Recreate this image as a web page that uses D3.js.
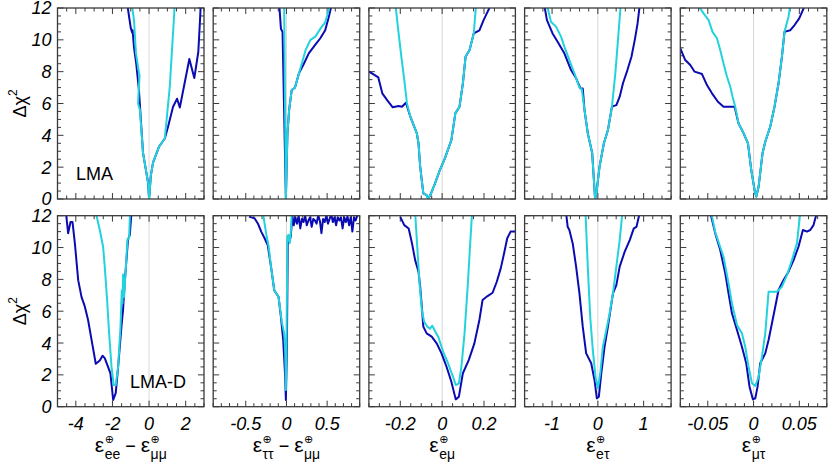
<!DOCTYPE html>
<html>
<head>
<meta charset="utf-8">
<script src="https://cdn.jsdelivr.net/npm/d3@7"></script>
<style>
  body { margin: 0; background: #fff; }
  svg { display: block; }
</style>
</head>
<body>
<div id="plot"></div>
<script>
// curves: [x, delta chi^2]
// dark = navy curve, light = cyan curve
var eeDarkLMA = [[-1.16, 12], [-1.0, 10.75], [-0.92, 10.45], [-0.9, 10.6], [-0.82, 9.5], [-0.7, 8.5], [-0.55, 6.8],
    [-0.45, 5.0], [-0.33, 2.9], [-0.05, 1.0], [0, 0], [0.1, 1.5], [0.22, 2.3], [0.55, 3.3], [0.86, 3.8], [1.04, 4.55],
    [1.31, 5.8], [1.53, 6.3], [1.68, 5.75], [2.2, 8.8], [2.47, 7.6], [2.69, 9.25], [2.78, 11.2], [2.82, 12.2]]
var eeLightLMA = [[-0.94, 12.2], [-0.82, 11.2], [-0.72, 9.2], [-0.55, 7.9], [-0.52, 7.8], [-0.6, 6.0], [-0.5, 5.6],
    [-0.33, 2.9], [-0.05, 1.0], [0, 0], [0.1, 1.5], [0.22, 2.3], [0.55, 3.3], [0.86, 3.8], [1.13, 7.05], [1.35, 11.2], [1.4, 12.2]]
var eeDarkLMAD = [[-4.54, 12.2], [-4.42, 10.9], [-4.29, 11.6], [-4.18, 11.6], [-4.05, 10.25], [-3.87, 7.95], [-3.69, 6.9],
    [-3.51, 6.3], [-3.33, 5.45], [-3.14, 4.2], [-2.91, 2.7], [-2.69, 2.9], [-2.54, 3.2], [-2.42, 3.05], [-2.24, 2.5],
    [-2.11, 2.1], [-1.96, 0.42], [-1.82, 0.85], [-1.69, 2.5], [-1.51, 5.0], [-1.42, 6.1], [-1.33, 7.8], [-1.15, 10.5],
    [-1.05, 10.8], [-0.96, 12.2]]
var eeLightLMAD = [[-2.91, 12.2], [-2.69, 11.1], [-2.51, 10.05], [-2.42, 8.8], [-2.29, 6.7], [-2.18, 4.6], [-2.05, 2.5],
    [-1.93, 1.36], [-1.82, 1.36], [-1.69, 2.5], [-1.56, 5.0], [-1.49, 7.3], [-1.45, 6.5], [-1.42, 8.3], [-1.36, 6.9],
    [-1.31, 7.9], [-1.18, 10.5], [-1.09, 10.6], [-1.04, 12.2]]

var ttDarkLMA = [[-0.088, 12.2], [-0.068, 10.7], [-0.048, 10.5], [-0.007, 0.04], [0.012, 4.1], [0.033, 5.6], [0.065, 6.85],
    [0.105, 7.0], [0.154, 7.9], [0.214, 8.5], [0.274, 9.15], [0.355, 9.7], [0.416, 10.1], [0.476, 10.6], [0.516, 11.35], [0.556, 12.2]]
var ttLightLMA = [[-0.028, 12.2], [-0.007, 0], [0.012, 4.1], [0.033, 5.6], [0.065, 6.85], [0.105, 7.0], [0.154, 7.9],
    [0.235, 9.35], [0.295, 10.0], [0.355, 10.2], [0.416, 10.7], [0.476, 11.1], [0.508, 11.65], [0.53, 12.2]]
var ttDarkLMAD = [[-0.46, 11.94], [-0.39, 11.83], [-0.35, 11.5], [-0.31, 11.0], [-0.27, 10.6], [-0.23, 10.15], [-0.19, 8.8],
    [-0.149, 7.3], [-0.097, 6.9], [-0.068, 5.65], [-0.04, 4.2], [-0.016, 1.9], [-0.007, 0.42], [0.005, 3.56], [0.017, 10.7],
    [0.033, 10.3], [0.053, 10.7], [0.073, 12], [0.09, 11.4], [0.11, 11.9], [0.13, 11.5], [0.15, 12], [0.17, 11.2],
    [0.19, 11.8], [0.21, 11.6], [0.23, 12], [0.25, 11.4], [0.27, 11.7], [0.29, 11.9], [0.31, 11.3], [0.33, 11.8],
    [0.35, 11.7], [0.37, 11.5], [0.39, 12], [0.41, 11.7], [0.43, 10.9], [0.45, 11.8], [0.47, 11.6], [0.49, 12],
    [0.51, 11.5], [0.53, 11.8], [0.55, 12.1], [0.57, 11.6], [0.59, 11.9], [0.61, 11.4], [0.63, 11.9], [0.65, 11.7],
    [0.67, 11.9], [0.69, 11.2], [0.71, 11.9], [0.73, 11.6], [0.75, 11.95], [0.77, 11.4], [0.79, 11.9], [0.81, 11.0],
    [0.83, 11.9], [0.85, 11.7], [0.87, 12]]
var ttLightLMAD = [[-0.29, 12.2], [-0.25, 10.9], [-0.218, 10.05], [-0.19, 8.8], [-0.149, 7.3], [-0.097, 6.9], [-0.056, 5.3],
    [-0.028, 4.6], [-0.016, 3.6], [-0.007, 1.05], [0.0, 3.5], [0.012, 10.7], [0.024, 10.8], [0.041, 10.3], [0.053, 10.9], [0.065, 12.2]]

var emDarkLMA = [[-0.349, 8.0], [-0.305, 7.64], [-0.286, 6.64], [-0.262, 6.2], [-0.236, 5.76], [-0.208, 5.84], [-0.192, 5.8],
    [-0.173, 6.05], [-0.152, 5.17], [-0.121, 4.13], [-0.113, 3.5], [-0.105, 2.03], [-0.09, 0.36], [-0.074, 0.25],
    [-0.066, 0.0], [-0.053, 0.36], [-0.034, 0.98], [-0.011, 1.82], [0.013, 2.55], [0.044, 3.7], [0.063, 5.38],
    [0.083, 5.8], [0.099, 7.27], [0.112, 8.94], [0.131, 9.36], [0.151, 10.4], [0.178, 10.6], [0.198, 11.24], [0.233, 12.2]]
var emLightLMA = [[-0.223, 12.2], [-0.208, 10.4], [-0.195, 8.94], [-0.179, 7.27], [-0.168, 6.0], [-0.152, 5.17],
    [-0.121, 4.13], [-0.113, 3.5], [-0.105, 2.03], [-0.09, 0.36], [-0.074, 0.25], [-0.066, 0.0], [-0.053, 0.36],
    [-0.034, 0.98], [-0.011, 1.82], [0.013, 2.55], [0.044, 3.7], [0.063, 5.38], [0.083, 5.8], [0.099, 7.27],
    [0.112, 8.94], [0.131, 9.36], [0.151, 10.4], [0.162, 12.2]]
var emDarkLMAD = [[-0.2, 11.93], [-0.181, 11.41], [-0.16, 11.2], [-0.144, 10.26], [-0.129, 9.21], [-0.113, 8.48],
    [-0.105, 7.54], [-0.097, 6.28], [-0.09, 5.03], [-0.074, 4.61], [-0.05, 4.4], [-0.026, 3.98], [-0.003, 3.35],
    [0.021, 2.51], [0.044, 1.57], [0.065, 0.46], [0.08, 0.63], [0.099, 2.1], [0.127, 2.93], [0.154, 3.98], [0.178, 5.45],
    [0.193, 6.7], [0.217, 6.95], [0.241, 7.16], [0.261, 7.85], [0.28, 8.69], [0.296, 9.64], [0.311, 10.58], [0.327, 11.0], [0.35, 11.0]]
var emLightLMAD = [[-0.129, 12.2], [-0.118, 9.84], [-0.108, 7.75], [-0.097, 6.07], [-0.086, 5.34], [-0.071, 5.03],
    [-0.058, 4.9], [-0.047, 5.09], [-0.038, 4.85], [-0.019, 4.4], [0.005, 3.45], [0.028, 2.73], [0.052, 1.88],
    [0.065, 1.36], [0.08, 1.47], [0.092, 2.51], [0.107, 4.61], [0.123, 7.75], [0.134, 10.26], [0.143, 12.2]]

var etDarkLMA = [[-1.171, 12.2], [-1.112, 11.24], [-0.989, 10.4], [-0.879, 9.88], [-0.732, 9.15], [-0.585, 8.1],
    [-0.475, 7.58], [-0.38, 6.95], [-0.33, 6.95], [-0.292, 5.6], [-0.22, 4.13], [-0.123, 2.87], [-0.06, 0.0],
    [-0.03, 0.4], [0.037, 2.03], [0.132, 3.5], [0.22, 4.33], [0.308, 5.8], [0.404, 5.9], [0.477, 6.43], [0.549, 7.27],
    [0.646, 8.1], [0.734, 8.94], [0.807, 10.0], [0.866, 11.0], [0.916, 12.2]]
var etLightLMA = [[-1.112, 12.2], [-1.024, 11.14], [-0.914, 10.83], [-0.804, 10.2], [-0.732, 9.57], [-0.622, 8.73],
    [-0.512, 7.9], [-0.402, 7.0], [-0.35, 6.9], [-0.292, 5.6], [-0.22, 4.13], [-0.123, 2.87], [-0.06, 0.0],
    [-0.03, 0.4], [0.037, 2.03], [0.132, 3.5], [0.22, 4.33], [0.308, 5.8], [0.382, 7.9], [0.44, 10.0], [0.499, 12.2]]
var etDarkLMAD = [[-0.695, 12.2], [-0.659, 11.3], [-0.622, 11.1], [-0.549, 10.26], [-0.475, 8.8], [-0.402, 7.12],
    [-0.33, 5.03], [-0.255, 3.35], [-0.145, 2.73], [-0.073, 1.68], [-0.022, 0.53], [0.022, 0.63], [0.075, 2.1],
    [0.147, 3.77], [0.22, 5.03], [0.33, 7.12], [0.404, 7.64], [0.477, 8.8], [0.587, 9.74], [0.697, 10.47],
    [0.785, 11.2], [0.844, 11.3], [0.916, 12.2]]
var etLightLMAD = [[-0.27, 12.2], [-0.22, 8.8], [-0.167, 5.65], [-0.11, 3.56], [-0.051, 1.88], [0.0, 1.16], [0.053, 2.1],
    [0.11, 3.77], [0.185, 4.82], [0.257, 5.87], [0.33, 7.12], [0.404, 8.8], [0.477, 10.47], [0.536, 12.2]]

var mtDarkLMA = [[-0.08, 9.46], [-0.0746, 8.73], [-0.0691, 8.42], [-0.0644, 8.0], [-0.0563, 7.85], [-0.0509, 7.16],
    [-0.0454, 6.64], [-0.0389, 6.11], [-0.0328, 5.8], [-0.0207, 5.8], [-0.0164, 4.75], [-0.0109, 4.13], [-0.0061, 3.5],
    [-0.0025, 1.82], [0.0011, 0.57], [0.003, 0.15], [0.0055, 0.77], [0.0098, 2.87], [0.0128, 3.6], [0.0182, 4.54],
    [0.0229, 5.8], [0.0273, 7.27], [0.031, 8.94], [0.0338, 10.5], [0.04, 10.6], [0.0448, 10.93], [0.0499, 11.35], [0.0564, 12.2]]
var mtLightLMA = [[-0.0607, 12.2], [-0.0546, 11.66], [-0.0491, 11.24], [-0.0448, 10.5], [-0.04, 10.1], [-0.0364, 9.36],
    [-0.0328, 8.52], [-0.029, 7.68], [-0.0254, 7.05], [-0.0229, 6.43], [-0.02, 5.8], [-0.0164, 4.75], [-0.0109, 4.13],
    [-0.0061, 3.5], [-0.0025, 1.82], [0.0011, 0.57], [0.003, 0.15], [0.0055, 0.77], [0.0098, 2.87], [0.0128, 3.6],
    [0.0182, 4.54], [0.0229, 5.8], [0.0273, 7.27], [0.031, 8.94], [0.0338, 10.5], [0.0382, 11.45], [0.04, 12.2]]
var mtDarkLMAD = [[-0.0473, 12.2], [-0.0418, 10.89], [-0.0364, 9.84], [-0.0309, 8.38], [-0.0273, 7.12], [-0.0236, 5.87],
    [-0.0181, 4.82], [-0.0127, 3.77], [-0.008, 2.73], [-0.0044, 1.26], [-0.0007, 0.46], [0.0019, 0.53], [0.0044, 1.26],
    [0.0073, 2.73], [0.0128, 3.35], [0.0164, 4.19], [0.0201, 5.24], [0.0237, 6.28], [0.0273, 7.33], [0.0328, 7.96],
    [0.0382, 8.48], [0.0437, 9.21], [0.0491, 10.05], [0.0539, 11.1], [0.0583, 11.0], [0.0619, 11.1], [0.0655, 11.41], [0.0692, 12.2]]
var mtLightLMAD = [[-0.0462, 12.2], [-0.0418, 10.95], [-0.0328, 9.42], [-0.0273, 7.75], [-0.0236, 6.49], [-0.0181, 5.13],
    [-0.0127, 4.61], [-0.0091, 3.77], [-0.0055, 2.51], [-0.0017, 1.47], [0.0019, 1.3], [0.0055, 1.88], [0.0092, 3.14],
    [0.0128, 4.61], [0.0164, 7.22], [0.0255, 7.22], [0.031, 7.54], [0.0365, 8.27], [0.0419, 9.21], [0.0474, 10.26], [0.051, 12.2]]

// axis ranges and ticks per column
var xDomains = [[-5, 3], [-0.9, 0.9], [-0.35, 0.35], [-1.6, 1.6], [-0.08, 0.08]]
var xMajor = [[-4, -2, 0, 2], [-0.5, 0, 0.5], [-0.2, 0, 0.2], [-1, 0, 1], [-0.05, 0, 0.05]]
var xMinorStep = [0.5, 0.1, 0.05, 0.2, 0.01]
var xTickLabels = [["-4", "-2", "0", "2"], ["-0.5", "0", "0.5"], ["-0.2", "0", "0.2"], ["-1", "0", "1"], ["-0.05", "0", "0.05"]]
var xTitleSubs = [["ee", "μμ"], ["ττ", "μμ"], ["eμ"], ["eτ"], ["μτ"]]
var yDomain = [0, 12]
var yMajor = [0, 2, 4, 6, 8, 10, 12]
var yMinorStep = 0.5
var rowLabels = ["LMA", "LMA-D"]

var darkCurves = [[eeDarkLMA, ttDarkLMA, emDarkLMA, etDarkLMA, mtDarkLMA],
                  [eeDarkLMAD, ttDarkLMAD, emDarkLMAD, etDarkLMAD, mtDarkLMAD]]
var lightCurves = [[eeLightLMA, ttLightLMA, emLightLMA, etLightLMA, mtLightLMA],
                   [eeLightLMAD, ttLightLMAD, emLightLMAD, etLightLMAD, mtLightLMAD]]

var w = 830
var h = 467
var left0 = 57.5
var colStep = 155.7
var pw = 146.5
var rowTops = [8, 215.7]
var ph = 191
var darkColor = "#0b0bb2"
var lightColor = "#22d2dc"
var font = "'Liberation Sans', Arial, sans-serif"

var svg = d3.select("#plot").append("svg").attr("width", w).attr("height", h)

function rangeSteps(domain, step) {
    var out = []
    var n0 = Math.ceil(domain[0] / step - 1e-9)
    var n1 = Math.floor(domain[1] / step + 1e-9)
    for (var k = n0; k <= n1; k++) out.push(+(k * step).toFixed(6))
    return out
}

var yMinor = rangeSteps(yDomain, yMinorStep)

for (var r = 0; r < 2; r++) {
    for (var c = 0; c < 5; c++) {
        var x0 = left0 + c * colStep
        var y0 = rowTops[r]
        var xScale = d3.scaleLinear().domain(xDomains[c]).range([x0, x0 + pw])
        var yScale = d3.scaleLinear().domain(yDomain).range([y0 + ph, y0])
        var g = svg.append("g")

        var clipId = "clip" + r + c
        svg.append("clipPath").attr("id", clipId).append("rect")
            .attr("x", x0).attr("y", y0).attr("width", pw).attr("height", ph)

        // zero line
        g.append("line")
            .attr("x1", xScale(0)).attr("x2", xScale(0))
            .attr("y1", y0).attr("y2", y0 + ph)
            .attr("stroke", "#d8d8d8").attr("stroke-width", 1)

        // inward ticks on all four sides
        var xMinor = rangeSteps(xDomains[c], xMinorStep[c])
        var ticks = g.append("g").attr("stroke", "#3a3a3a").attr("stroke-width", 1)
        xMinor.forEach(function(v) {
            var isMajor = xMajor[c].some(function(m) { return Math.abs(m - v) < 1e-6 })
            var len = isMajor ? 6 : 3.5
            var px = xScale(v)
            ticks.append("line").attr("x1", px).attr("x2", px).attr("y1", y0 + ph).attr("y2", y0 + ph - len)
            ticks.append("line").attr("x1", px).attr("x2", px).attr("y1", y0).attr("y2", y0 + len)
        })
        yMinor.forEach(function(v) {
            var isMajor = yMajor.indexOf(v) >= 0
            var len = isMajor ? 6 : 3.5
            var py = yScale(v)
            ticks.append("line").attr("x1", x0).attr("x2", x0 + len).attr("y1", py).attr("y2", py)
            ticks.append("line").attr("x1", x0 + pw).attr("x2", x0 + pw - len).attr("y1", py).attr("y2", py)
        })

        // curves
        var line = d3.line()
            .x(function(d) { return xScale(d[0]) })
            .y(function(d) { return yScale(d[1]) })
        var curves = g.append("g").attr("clip-path", "url(#" + clipId + ")")
        curves.append("path").datum(darkCurves[r][c])
            .attr("d", line).attr("fill", "none")
            .attr("stroke", darkColor).attr("stroke-width", 2).attr("stroke-linejoin", "round")
        curves.append("path").datum(lightCurves[r][c])
            .attr("d", line).attr("fill", "none")
            .attr("stroke", lightColor).attr("stroke-width", 2).attr("stroke-linejoin", "round")

        // frame
        g.append("rect")
            .attr("x", x0).attr("y", y0).attr("width", pw).attr("height", ph)
            .attr("fill", "none").attr("stroke", "#3a3a3a").attr("stroke-width", 1.3)

        // y tick labels on first column
        if (c == 0) {
            g.selectAll(".ylab").data(yMajor).enter().append("text")
                .attr("x", x0 - 6)
                .attr("y", function(d) { return yScale(d) })
                .attr("dy", "0.36em")
                .attr("text-anchor", "end")
                .attr("font-family", font).attr("font-style", "italic").attr("font-size", 18)
                .text(function(d) { return d })

            // Delta chi^2
            var yt = g.append("text")
                .attr("transform", "translate(26," + (y0 + ph / 2) + ") rotate(-90)")
                .attr("text-anchor", "middle")
                .attr("font-family", font).attr("font-size", 18)
            yt.append("tspan").text("Δχ")
            yt.append("tspan").attr("font-size", 12).attr("dy", -9).text("2")

            g.append("text")
                .attr("x", r == 0 ? 76 : 130)
                .attr("y", r == 0 ? 180 : 388)
                .attr("font-family", font).attr("font-size", 18)
                .text(rowLabels[r])
        }

        // x tick labels and titles on bottom row
        if (r == 1) {
            g.selectAll(".xlab").data(xMajor[c]).enter().append("text")
                .attr("x", function(d) { return xScale(d) })
                .attr("y", 430)
                .attr("text-anchor", "middle")
                .attr("font-family", font).attr("font-style", "italic").attr("font-size", 18)
                .text(function(d, i) { return xTickLabels[c][i] })
            drawTitle(x0 + pw / 2, 452, xTitleSubs[c])
        }
    }
}

// epsilon with superscript circled plus and flavour subscript, joined by minus
function drawTitle(cx, base, subs) {
    var tg = svg.append("g")
    var cursor = 0
    subs.forEach(function(s, i) {
        if (i > 0) {
            var op = tg.append("text").attr("x", cursor).attr("y", base)
                .attr("font-family", font).attr("font-size", 18).text("\u00a0\u2212\u00a0")
            cursor += op.node().getComputedTextLength()
        }
        var eps = tg.append("text").attr("x", cursor).attr("y", base)
            .attr("font-family", font).attr("font-size", 21).text("ε")
        cursor += eps.node().getComputedTextLength() + 0.5
        var sup = tg.append("text").attr("x", cursor).attr("y", base - 9)
            .attr("font-family", "'DejaVu Sans', sans-serif").attr("font-size", 11).text("⊕")
        var sub = tg.append("text").attr("x", cursor).attr("y", base + 7)
            .attr("font-family", font).attr("font-size", 14).text(s)
        cursor += Math.max(sup.node().getComputedTextLength(), sub.node().getComputedTextLength())
    })
    tg.attr("transform", "translate(" + (cx - cursor / 2) + ",0)")
}
</script>
</body>
</html>
